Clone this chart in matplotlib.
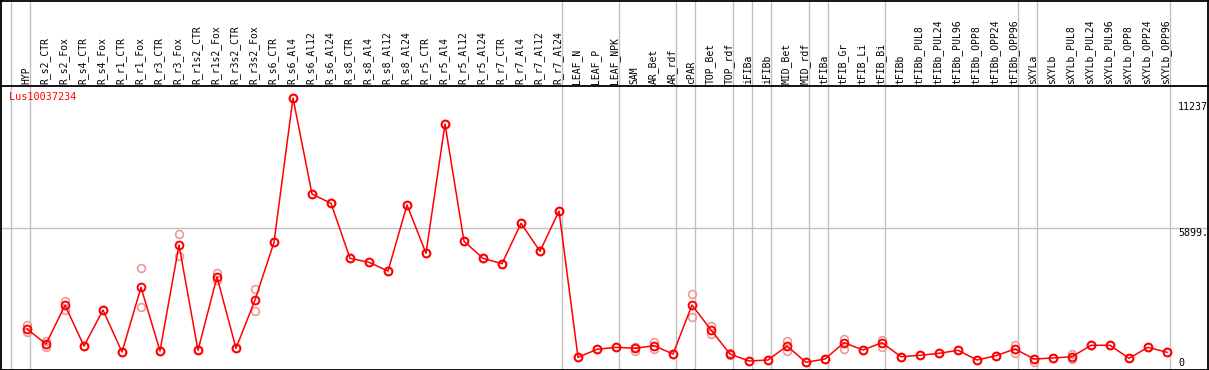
import matplotlib
matplotlib.use("Agg")
import matplotlib.pyplot as plt
import numpy as np

gene = "Lus10037234"

samples = ["HYP", "R_s2_CTR", "R_s2_Fox", "R_s4_CTR", "R_s4_Fox", "R_r1_CTR", "R_r1_Fox",
           "R_r3_CTR", "R_r3_Fox", "R_r1s2_CTR", "R_r1s2_Fox", "R_r3s2_CTR", "R_r3s2_Fox",
           "R_s6_CTR", "R_s6_Al4", "R_s6_Al12", "R_s6_Al24", "R_s8_CTR", "R_s8_Al4",
           "R_s8_Al12", "R_s8_Al24", "R_r5_CTR", "R_r5_Al4", "R_r5_Al12", "R_r5_Al24",
           "R_r7_CTR", "R_r7_Al4", "R_r7_Al12", "R_r7_Al24", "LEAF_N", "LEAF_P", "LEAF_NPK",
           "SAM", "AR_Bet", "AR_rdf", "cPAR", "TOP_Bet", "TOP_rdf", "iFIBa", "iFIBb",
           "MID_Bet", "MID_rdf", "tFIBa", "tFIB_Gr", "tFIB_Li", "tFIB_Bi", "tFIBb",
           "tFIBb_PUL8", "tFIBb_PUL24", "tFIBb_PUL96", "tFIBb_OPP8", "tFIBb_OPP24",
           "tFIBb_OPP96", "sXYLa", "sXYLb", "sXYLb_PUL8", "sXYLb_PUL24", "sXYLb_PUL96",
           "sXYLb_OPP8", "sXYLb_OPP24", "sXYLb_OPP96"]

mean_values = [1774, 1159, 2745, 1077, 2552, 832, 3482, 873, 5215, 901, 3904, 983, 2962,
               5326, 11237, 7304, 6923, 4670, 4506, 4150, 6854, 4875, 10172, 5367, 4670,
               4449, 6104, 4957, 6608, 615, 942, 1024, 983, 1090, 750, 2757, 1733, 750,
               463, 504, 1077, 410, 545, 1213, 914, 1213, 639, 696, 778, 901, 504, 680,
               955, 545, 586, 639, 1106, 1106, 574, 1024, 819]

rep1_values = [1938, 1049, 2933, 1077, 2552, 832, 4261, 873, 5666, 901, 4080, 983, 3413,
               5326, 11237, 7304, 6923, 4670, 4506, 4150, 6854, 4875, 10172, 5367, 4670,
               4449, 6104, 4957, 6608, 615, 942, 1024, 1049, 1254, 750, 3208, 1909, 790,
               463, 504, 1295, 410, 545, 1376, 914, 1323, 639, 696, 778, 901, 504, 680,
               1118, 545, 586, 750, 1106, 1106, 574, 1024, 819]

rep2_values = [1663, 1282, 2552, 1077, 2552, 832, 2663, 873, 4764, 901, 3781, 983, 2524,
               5326, 11237, 7304, 6923, 4670, 4506, 4150, 6854, 4875, 10172, 5367, 4670,
               4449, 6104, 4957, 6608, 615, 942, 1024, 885, 955, 750, 2253, 1569, 710,
               463, 504, 860, 410, 545, 955, 914, 1049, 639, 696, 778, 901, 504, 680,
               803, 434, 586, 532, 1106, 1106, 574, 1024, 819]

# group boundaries (index of first sample of each group, plus end)
group_starts = [0, 1, 29, 32, 35, 36, 38, 39, 40, 42, 43, 46, 53, 54, 61]

ytick_labels = ["11237", "5899.", "0"]
hline_value = 5899

W, H = 1209, 370
fig = plt.figure(figsize=(W / 100, H / 100), dpi=100)
fig.patch.set_facecolor("white")

# pixel mapping
x0_px, dx_px = 27.0, 19.0      # pixel of sample 0, spacing
y0_px, sy = 372.3, 0.02441     # pixel of value 0, px per unit
sep_px = 85.5

xl = (0 - x0_px) / dx_px
xr = (W - x0_px) / dx_px
ybot = (y0_px - H) / sy
ytop = (y0_px - sep_px) / sy

ax = fig.add_axes([0, 0, 1, (H - sep_px) / H])
ax.set_xlim(xl, xr)
ax.set_ylim(ybot, ytop)
ax.axis("off")

hx = fig.add_axes([0, (H - sep_px) / H, 1, sep_px / H])
hx.set_xlim(xl, xr)
hx.set_ylim(0, 1)
hx.axis("off")

grid_c = "#c0c0c0"
off = -16.0 / dx_px
for b in group_starts:
    ax.axvline(b + off, color=grid_c, lw=1.0, zorder=1)
    hx.axvline(b + off, color=grid_c, lw=1.0, zorder=1)
ax.axhline(hline_value, color=grid_c, lw=1.0, zorder=1)

x = np.arange(len(samples))
ms = 5.6
ax.plot(x, rep1_values, ls="none", marker="o", ms=ms, mfc="none", mec="#f09898", mew=1.2, zorder=2)
ax.plot(x, rep2_values, ls="none", marker="o", ms=ms, mfc="none", mec="#f09898", mew=1.2, zorder=2)
ax.plot(x, mean_values, color="red", lw=1.1, zorder=3)
ax.plot(x, mean_values, ls="none", marker="o", ms=ms, mfc="none", mec="red", mew=1.4, zorder=4)

for i, s in enumerate(samples):
    hx.text(i - 1.0 / dx_px, 0.02, s, rotation=90, ha="center", va="bottom",
            fontsize=7, family="DejaVu Sans Mono", color="black")

# overlay in pixel coordinates for frame and side texts
ov = fig.add_axes([0, 0, 1, 1], facecolor="none")
ov.set_xlim(0, W)
ov.set_ylim(H, 0)
ov.axis("off")
for yy in [0.5, sep_px, 369.5]:
    ov.plot([0, W], [yy, yy], color="black", lw=1.3)
for xx in [0.7, 1208.3]:
    ov.plot([xx, xx], [0, H], color="black", lw=1.3)

ov.text(9, 92.5, gene, color="red", fontsize=7.3, family="DejaVu Sans Mono", ha="left", va="top")
for lab, ty in zip(ytick_labels, [101.5, 228, 358.5]):
    ov.text(1178, ty, lab, color="black", fontsize=7.2, family="DejaVu Sans Mono", ha="left", va="top")

fig.savefig("out.png", dpi=100, facecolor="white")
